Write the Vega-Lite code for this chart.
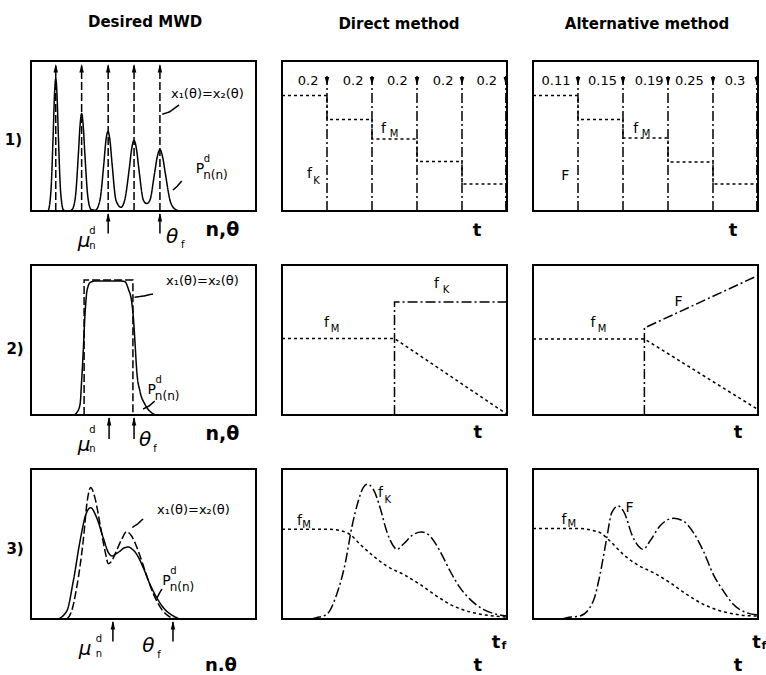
{
"$schema": "https://vega.github.io/schema/vega-lite/v6.json",
"background": "white",
"padding": {"left": 3, "top": 14, "right": 0, "bottom": 0},
"config": {"view": {"stroke": "black", "strokeWidth": 2}, "font": "DejaVu Sans", "text": {"font": "DejaVu Sans"}},
"data": {"values": [
{"p":"r1c1","k":"c","g":"p","s":"s","x":0,"y":0},{"p":"r1c1","k":"c","g":"p","s":"s","x":7.5,"y":0},{"p":"r1c1","k":"c","g":"p","s":"s","x":8.8,"y":12},{"p":"r1c1","k":"c","g":"p","s":"s","x":9.9,"y":53},{"p":"r1c1","k":"c","g":"p","s":"s","x":10.45,"y":78},{"p":"r1c1","k":"c","g":"p","s":"s","x":11,"y":88},{"p":"r1c1","k":"c","g":"p","s":"s","x":11.55,"y":78},{"p":"r1c1","k":"c","g":"p","s":"s","x":12.1,"y":53},{"p":"r1c1","k":"c","g":"p","s":"s","x":13.2,"y":12},{"p":"r1c1","k":"c","g":"p","s":"s","x":14.5,"y":0.5},{"p":"r1c1","k":"c","g":"p","s":"s","x":17,"y":0},{"p":"r1c1","k":"c","g":"p","s":"s","x":18.3,"y":1},{"p":"r1c1","k":"c","g":"p","s":"s","x":19.7,"y":9},{"p":"r1c1","k":"c","g":"p","s":"s","x":21.1,"y":39},{"p":"r1c1","k":"c","g":"p","s":"s","x":21.8,"y":57},{"p":"r1c1","k":"c","g":"p","s":"s","x":22.5,"y":65},{"p":"r1c1","k":"c","g":"p","s":"s","x":23.2,"y":57},{"p":"r1c1","k":"c","g":"p","s":"s","x":23.9,"y":39},{"p":"r1c1","k":"c","g":"p","s":"s","x":25.3,"y":9},{"p":"r1c1","k":"c","g":"p","s":"s","x":26.7,"y":1},{"p":"r1c1","k":"c","g":"p","s":"s","x":28.6,"y":0.5},{"p":"r1c1","k":"c","g":"p","s":"s","x":30.6,"y":7},{"p":"r1c1","k":"c","g":"p","s":"s","x":32.4,"y":32},{"p":"r1c1","k":"c","g":"p","s":"s","x":33.3,"y":47},{"p":"r1c1","k":"c","g":"p","s":"s","x":34.2,"y":53},{"p":"r1c1","k":"c","g":"p","s":"s","x":35.1,"y":47},{"p":"r1c1","k":"c","g":"p","s":"s","x":36,"y":32},{"p":"r1c1","k":"c","g":"p","s":"s","x":37.8,"y":7},{"p":"r1c1","k":"c","g":"p","s":"s","x":40,"y":2.5},{"p":"r1c1","k":"c","g":"p","s":"s","x":41.6,"y":7},{"p":"r1c1","k":"c","g":"p","s":"s","x":43.7,"y":28.5},{"p":"r1c1","k":"c","g":"p","s":"s","x":44.75,"y":41.5},{"p":"r1c1","k":"c","g":"p","s":"s","x":45.8,"y":47},{"p":"r1c1","k":"c","g":"p","s":"s","x":46.85,"y":41.5},{"p":"r1c1","k":"c","g":"p","s":"s","x":47.9,"y":28.5},{"p":"r1c1","k":"c","g":"p","s":"s","x":50,"y":7},{"p":"r1c1","k":"c","g":"p","s":"s","x":51.4,"y":5},{"p":"r1c1","k":"c","g":"p","s":"s","x":52.8,"y":7},{"p":"r1c1","k":"c","g":"p","s":"s","x":54.9,"y":25},{"p":"r1c1","k":"c","g":"p","s":"s","x":56.1,"y":36},{"p":"r1c1","k":"c","g":"p","s":"s","x":57.3,"y":41},{"p":"r1c1","k":"c","g":"p","s":"s","x":58.5,"y":36},{"p":"r1c1","k":"c","g":"p","s":"s","x":59.7,"y":25},{"p":"r1c1","k":"c","g":"p","s":"s","x":62.1,"y":5.5},{"p":"r1c1","k":"c","g":"p","s":"s","x":64.5,"y":0.8},{"p":"r1c1","k":"c","g":"p","s":"s","x":66.5,"y":0},{"p":"r1c1","k":"c","g":"p","s":"s","x":100,"y":0},
{"p":"r1c1","k":"l","g":"d1","s":"d","x":11,"y":0},{"p":"r1c1","k":"l","g":"d1","s":"d","x":11,"y":97},
{"p":"r1c1","k":"l","g":"d2","s":"d","x":22.5,"y":0},{"p":"r1c1","k":"l","g":"d2","s":"d","x":22.5,"y":97},
{"p":"r1c1","k":"l","g":"d3","s":"d","x":34.3,"y":0},{"p":"r1c1","k":"l","g":"d3","s":"d","x":34.3,"y":97},
{"p":"r1c1","k":"l","g":"d4","s":"d","x":45.8,"y":0},{"p":"r1c1","k":"l","g":"d4","s":"d","x":45.8,"y":97},
{"p":"r1c1","k":"l","g":"d5","s":"d","x":57.3,"y":0},{"p":"r1c1","k":"l","g":"d5","s":"d","x":57.3,"y":97},
{"p":"r1c1","k":"l","g":"a1","s":"s","x":34.3,"y":-15},{"p":"r1c1","k":"l","g":"a1","s":"s","x":34.3,"y":-2},
{"p":"r1c1","k":"l","g":"a2","s":"s","x":57.3,"y":-15},{"p":"r1c1","k":"l","g":"a2","s":"s","x":57.3,"y":-2},
{"p":"r1c1","k":"l","g":"L1","s":"s","x":65.8,"y":70.7},{"p":"r1c1","k":"l","g":"L1","s":"s","x":61.5,"y":66},{"p":"r1c1","k":"l","g":"L1","s":"s","x":58.3,"y":64.5},
{"p":"r1c1","k":"l","g":"L2","s":"s","x":67,"y":20},{"p":"r1c1","k":"l","g":"L2","s":"s","x":65,"y":16.5},{"p":"r1c1","k":"l","g":"L2","s":"s","x":63.1,"y":14},
{"p":"r1c1","k":"a","h":"u","x":11,"y":94.7},{"p":"r1c1","k":"a","h":"u","x":22.5,"y":94.7},{"p":"r1c1","k":"a","h":"u","x":34.3,"y":94.7},{"p":"r1c1","k":"a","h":"u","x":45.8,"y":94.7},{"p":"r1c1","k":"a","h":"u","x":57.3,"y":94.7},
{"p":"r1c1","k":"a","h":"u","x":34.3,"y":-4.6},{"p":"r1c1","k":"a","h":"u","x":57.3,"y":-4.6},
{"p":"r1c1","k":"t","t":"x₁(θ)=x₂(θ)","z":13,"x":78.4,"y":78},
{"p":"r1c1","k":"t","t":"P","z":14,"x":75.1,"y":28},{"p":"r1c1","k":"t","t":"d","z":10,"x":78.2,"y":34.5},{"p":"r1c1","k":"t","t":"n(n)","z":12,"x":82,"y":24},
{"p":"r1c1","k":"i","t":"μ","z":20,"x":23.6,"y":-20},{"p":"r1c1","k":"t","t":"d","z":10,"x":27.3,"y":-13},{"p":"r1c1","k":"t","t":"n","z":10,"x":27.3,"y":-23},
{"p":"r1c1","k":"i","t":"θ","z":20,"x":62.7,"y":-17.3},{"p":"r1c1","k":"t","t":"f","z":10,"x":67.4,"y":-22.7},
{"p":"r1c1","k":"b","t":"n,θ","z":19,"x":85.1,"y":-12.7},{"p":"r1c1","k":"b","t":"1)","z":15,"x":-7.8,"y":47.3},{"p":"r1c1","k":"b","t":"Desired MWD","z":15,"x":50.7,"y":126},

{"p":"r1c2","k":"l","g":"k1","s":"dd","x":20,"y":0},{"p":"r1c2","k":"l","g":"k1","s":"dd","x":20,"y":90},
{"p":"r1c2","k":"l","g":"k2","s":"dd","x":40,"y":0},{"p":"r1c2","k":"l","g":"k2","s":"dd","x":40,"y":90},
{"p":"r1c2","k":"l","g":"k3","s":"dd","x":60,"y":0},{"p":"r1c2","k":"l","g":"k3","s":"dd","x":60,"y":90},
{"p":"r1c2","k":"l","g":"k4","s":"dd","x":80,"y":0},{"p":"r1c2","k":"l","g":"k4","s":"dd","x":80,"y":90},
{"p":"r1c2","k":"l","g":"k5","s":"dd","x":99.5,"y":0},{"p":"r1c2","k":"l","g":"k5","s":"dd","x":99.5,"y":90},
{"p":"r1c2","k":"l","g":"m","s":"o","x":0,"y":77},{"p":"r1c2","k":"l","g":"m","s":"o","x":20,"y":77},{"p":"r1c2","k":"l","g":"m","s":"o","x":20,"y":61},{"p":"r1c2","k":"l","g":"m","s":"o","x":40,"y":61},{"p":"r1c2","k":"l","g":"m","s":"o","x":40,"y":48},{"p":"r1c2","k":"l","g":"m","s":"o","x":60,"y":48},{"p":"r1c2","k":"l","g":"m","s":"o","x":60,"y":33},{"p":"r1c2","k":"l","g":"m","s":"o","x":80,"y":33},{"p":"r1c2","k":"l","g":"m","s":"o","x":80,"y":18},{"p":"r1c2","k":"l","g":"m","s":"o","x":100,"y":18},
{"p":"r1c2","k":"a","h":"d","x":20,"y":87},{"p":"r1c2","k":"a","h":"d","x":40,"y":87},{"p":"r1c2","k":"a","h":"d","x":60,"y":87},{"p":"r1c2","k":"a","h":"d","x":80,"y":87},{"p":"r1c2","k":"a","h":"d","x":99.5,"y":87},
{"p":"r1c2","k":"t","t":"0.2","z":13,"x":11.6,"y":87},{"p":"r1c2","k":"t","t":"0.2","z":13,"x":31.6,"y":87},{"p":"r1c2","k":"t","t":"0.2","z":13,"x":51.3,"y":87},{"p":"r1c2","k":"t","t":"0.2","z":13,"x":71.6,"y":87},{"p":"r1c2","k":"t","t":"0.2","z":13,"x":91,"y":87},
{"p":"r1c2","k":"t","t":"f","z":14,"x":45.1,"y":54.7},{"p":"r1c2","k":"t","t":"M","z":10,"x":49.8,"y":51.3},
{"p":"r1c2","k":"t","t":"f","z":14,"x":12.2,"y":24.7},{"p":"r1c2","k":"t","t":"K","z":10,"x":15.3,"y":20},
{"p":"r1c2","k":"b","t":"t","z":18,"x":86.7,"y":-13.3},{"p":"r1c2","k":"b","t":"Direct method","z":15,"x":52,"y":125},

{"p":"r1c3","k":"l","g":"k1","s":"dd","x":20,"y":0},{"p":"r1c3","k":"l","g":"k1","s":"dd","x":20,"y":90},
{"p":"r1c3","k":"l","g":"k2","s":"dd","x":40,"y":0},{"p":"r1c3","k":"l","g":"k2","s":"dd","x":40,"y":90},
{"p":"r1c3","k":"l","g":"k3","s":"dd","x":60,"y":0},{"p":"r1c3","k":"l","g":"k3","s":"dd","x":60,"y":90},
{"p":"r1c3","k":"l","g":"k4","s":"dd","x":80,"y":0},{"p":"r1c3","k":"l","g":"k4","s":"dd","x":80,"y":90},
{"p":"r1c3","k":"l","g":"k5","s":"dd","x":99.5,"y":0},{"p":"r1c3","k":"l","g":"k5","s":"dd","x":99.5,"y":90},
{"p":"r1c3","k":"l","g":"m","s":"o","x":0,"y":77},{"p":"r1c3","k":"l","g":"m","s":"o","x":20,"y":77},{"p":"r1c3","k":"l","g":"m","s":"o","x":20,"y":61},{"p":"r1c3","k":"l","g":"m","s":"o","x":40,"y":61},{"p":"r1c3","k":"l","g":"m","s":"o","x":40,"y":48.7},{"p":"r1c3","k":"l","g":"m","s":"o","x":60,"y":48.7},{"p":"r1c3","k":"l","g":"m","s":"o","x":60,"y":32.7},{"p":"r1c3","k":"l","g":"m","s":"o","x":80,"y":32.7},{"p":"r1c3","k":"l","g":"m","s":"o","x":80,"y":18},{"p":"r1c3","k":"l","g":"m","s":"o","x":100,"y":18},
{"p":"r1c3","k":"a","h":"d","x":20,"y":87},{"p":"r1c3","k":"a","h":"d","x":40,"y":87},{"p":"r1c3","k":"a","h":"d","x":60,"y":87},{"p":"r1c3","k":"a","h":"d","x":80,"y":87},{"p":"r1c3","k":"a","h":"d","x":99.5,"y":87},
{"p":"r1c3","k":"t","t":"0.11","z":13,"x":10.2,"y":87},{"p":"r1c3","k":"t","t":"0.15","z":13,"x":30.9,"y":87},{"p":"r1c3","k":"t","t":"0.19","z":13,"x":51.6,"y":87},{"p":"r1c3","k":"t","t":"0.25","z":13,"x":69.5,"y":87},{"p":"r1c3","k":"t","t":"0.3","z":13,"x":89.8,"y":87},
{"p":"r1c3","k":"t","t":"f","z":14,"x":45.6,"y":54.7},{"p":"r1c3","k":"t","t":"M","z":10,"x":50.2,"y":51.3},
{"p":"r1c3","k":"t","t":"F","z":14,"x":14.4,"y":23.3},
{"p":"r1c3","k":"b","t":"t","z":18,"x":88.9,"y":-13.3},{"p":"r1c3","k":"b","t":"Alternative method","z":15,"x":50.7,"y":125},

{"p":"r2c1","k":"c","g":"p","s":"s","x":0,"y":0},{"p":"r2c1","k":"c","g":"p","s":"s","x":19,"y":0},{"p":"r2c1","k":"c","g":"p","s":"s","x":20.3,"y":1.5},{"p":"r2c1","k":"c","g":"p","s":"s","x":21.8,"y":7},{"p":"r2c1","k":"c","g":"p","s":"s","x":22.5,"y":22.7},{"p":"r2c1","k":"c","g":"p","s":"s","x":23.3,"y":45},{"p":"r2c1","k":"c","g":"p","s":"s","x":24,"y":67},{"p":"r2c1","k":"c","g":"p","s":"s","x":25,"y":83.8},{"p":"r2c1","k":"c","g":"p","s":"s","x":26.5,"y":88.6},{"p":"r2c1","k":"c","g":"p","s":"s","x":28.5,"y":89.3},{"p":"r2c1","k":"c","g":"p","s":"s","x":40,"y":89.3},{"p":"r2c1","k":"c","g":"p","s":"s","x":41.8,"y":88.8},{"p":"r2c1","k":"c","g":"p","s":"s","x":43.3,"y":83.8},{"p":"r2c1","k":"c","g":"p","s":"s","x":44.7,"y":76},{"p":"r2c1","k":"c","g":"p","s":"s","x":45.5,"y":65},{"p":"r2c1","k":"c","g":"p","s":"s","x":46.2,"y":49},{"p":"r2c1","k":"c","g":"p","s":"s","x":47,"y":29.3},{"p":"r2c1","k":"c","g":"p","s":"s","x":48.4,"y":16},{"p":"r2c1","k":"c","g":"p","s":"s","x":50.7,"y":7},{"p":"r2c1","k":"c","g":"p","s":"s","x":53.6,"y":1.5},{"p":"r2c1","k":"c","g":"p","s":"s","x":56,"y":0},{"p":"r2c1","k":"c","g":"p","s":"s","x":100,"y":0},
{"p":"r2c1","k":"l","g":"r","s":"d","x":23.6,"y":0},{"p":"r2c1","k":"l","g":"r","s":"d","x":23.6,"y":90},{"p":"r2c1","k":"l","g":"r","s":"d","x":45.3,"y":90},{"p":"r2c1","k":"l","g":"r","s":"d","x":45.3,"y":0},
{"p":"r2c1","k":"l","g":"a1","s":"s","x":34.7,"y":-16},{"p":"r2c1","k":"l","g":"a1","s":"s","x":34.7,"y":-2},
{"p":"r2c1","k":"l","g":"a2","s":"s","x":45.8,"y":-16},{"p":"r2c1","k":"l","g":"a2","s":"s","x":45.8,"y":-2},
{"p":"r2c1","k":"l","g":"L1","s":"s","x":54.2,"y":80.7},{"p":"r2c1","k":"l","g":"L1","s":"s","x":50,"y":79.3},{"p":"r2c1","k":"l","g":"L1","s":"s","x":46,"y":78.5},
{"p":"r2c1","k":"l","g":"L2","s":"s","x":55,"y":9.3},{"p":"r2c1","k":"l","g":"L2","s":"s","x":52.5,"y":6},{"p":"r2c1","k":"l","g":"L2","s":"s","x":49.8,"y":4},
{"p":"r2c1","k":"a","h":"u","x":34.7,"y":-4.6},{"p":"r2c1","k":"a","h":"u","x":45.8,"y":-4.6},
{"p":"r2c1","k":"t","t":"x₁(θ)=x₂(θ)","z":13,"x":76.2,"y":89.3},
{"p":"r2c1","k":"t","t":"P","z":14,"x":53.6,"y":16.7},{"p":"r2c1","k":"t","t":"d","z":10,"x":56.7,"y":23.2},{"p":"r2c1","k":"t","t":"n(n)","z":12,"x":60.5,"y":12.7},
{"p":"r2c1","k":"i","t":"μ","z":20,"x":23.6,"y":-20},{"p":"r2c1","k":"t","t":"d","z":10,"x":27.3,"y":-10},{"p":"r2c1","k":"t","t":"n","z":10,"x":27.3,"y":-22.5},
{"p":"r2c1","k":"i","t":"θ","z":20,"x":50.7,"y":-16.7},{"p":"r2c1","k":"t","t":"f","z":10,"x":55.1,"y":-22.7},
{"p":"r2c1","k":"b","t":"n,θ","z":19,"x":85.1,"y":-12.7},{"p":"r2c1","k":"b","t":"2)","z":15,"x":-7.1,"y":44},

{"p":"r2c2","k":"l","g":"m","s":"o","x":0,"y":51},{"p":"r2c2","k":"l","g":"m","s":"o","x":50,"y":51},{"p":"r2c2","k":"l","g":"m","s":"o","x":99.5,"y":1},
{"p":"r2c2","k":"l","g":"k","s":"dd","x":50,"y":0},{"p":"r2c2","k":"l","g":"k","s":"dd","x":50,"y":75.3},{"p":"r2c2","k":"l","g":"k","s":"dd","x":100,"y":75.3},
{"p":"r2c2","k":"t","t":"f","z":14,"x":19.8,"y":61.3},{"p":"r2c2","k":"t","t":"M","z":10,"x":23.6,"y":57.3},
{"p":"r2c2","k":"t","t":"f","z":14,"x":68.7,"y":87.3},{"p":"r2c2","k":"t","t":"K","z":10,"x":72.9,"y":83.3},
{"p":"r2c2","k":"b","t":"t","z":18,"x":87,"y":-12},

{"p":"r2c3","k":"l","g":"m","s":"o","x":0,"y":50.7},{"p":"r2c3","k":"l","g":"m","s":"o","x":49.5,"y":50.7},{"p":"r2c3","k":"l","g":"m","s":"o","x":99.6,"y":4},
{"p":"r2c3","k":"l","g":"k","s":"dd","x":49.5,"y":0},{"p":"r2c3","k":"l","g":"k","s":"dd","x":49.5,"y":58},{"p":"r2c3","k":"l","g":"k","s":"dd","x":100,"y":93},
{"p":"r2c3","k":"t","t":"f","z":14,"x":26.7,"y":61.3},{"p":"r2c3","k":"t","t":"M","z":10,"x":30.7,"y":57.3},
{"p":"r2c3","k":"t","t":"F","z":14,"x":64.7,"y":75.3},
{"p":"r2c3","k":"b","t":"t","z":18,"x":91.1,"y":-12},

{"p":"r3c1","k":"c","g":"p","s":"s","x":0,"y":0},{"p":"r3c1","k":"c","g":"p","s":"s","x":11.4,"y":0},{"p":"r3c1","k":"c","g":"p","s":"s","x":15.9,"y":5.3},{"p":"r3c1","k":"c","g":"p","s":"s","x":18.8,"y":25.3},{"p":"r3c1","k":"c","g":"p","s":"s","x":21.8,"y":52},{"p":"r3c1","k":"c","g":"p","s":"s","x":24.4,"y":69.8},{"p":"r3c1","k":"c","g":"p","s":"s","x":26.5,"y":74.2},{"p":"r3c1","k":"c","g":"p","s":"s","x":29.2,"y":67.5},{"p":"r3c1","k":"c","g":"p","s":"s","x":32.1,"y":54.2},{"p":"r3c1","k":"c","g":"p","s":"s","x":34.5,"y":44},{"p":"r3c1","k":"c","g":"p","s":"s","x":36,"y":42},{"p":"r3c1","k":"c","g":"p","s":"s","x":37.8,"y":43.5},{"p":"r3c1","k":"c","g":"p","s":"s","x":39.6,"y":45.3},{"p":"r3c1","k":"c","g":"p","s":"s","x":41.5,"y":47.5},{"p":"r3c1","k":"c","g":"p","s":"s","x":43.3,"y":48},{"p":"r3c1","k":"c","g":"p","s":"s","x":45,"y":46.5},{"p":"r3c1","k":"c","g":"p","s":"s","x":47,"y":43.1},{"p":"r3c1","k":"c","g":"p","s":"s","x":49.9,"y":34.2},{"p":"r3c1","k":"c","g":"p","s":"s","x":52.9,"y":23.1},{"p":"r3c1","k":"c","g":"p","s":"s","x":55.9,"y":14.2},{"p":"r3c1","k":"c","g":"p","s":"s","x":58.8,"y":7.6},{"p":"r3c1","k":"c","g":"p","s":"s","x":63.3,"y":2},{"p":"r3c1","k":"c","g":"p","s":"s","x":67,"y":0},{"p":"r3c1","k":"c","g":"p","s":"s","x":100,"y":0},
{"p":"r3c1","k":"c","g":"q","s":"d","x":15.9,"y":0},{"p":"r3c1","k":"c","g":"q","s":"d","x":18,"y":5},{"p":"r3c1","k":"c","g":"q","s":"d","x":20.3,"y":20.9},{"p":"r3c1","k":"c","g":"q","s":"d","x":23.2,"y":52},{"p":"r3c1","k":"c","g":"q","s":"d","x":25,"y":78.7},{"p":"r3c1","k":"c","g":"q","s":"d","x":26.5,"y":87.6},{"p":"r3c1","k":"c","g":"q","s":"d","x":28.4,"y":80.9},{"p":"r3c1","k":"c","g":"q","s":"d","x":30.7,"y":63.1},{"p":"r3c1","k":"c","g":"q","s":"d","x":32.9,"y":45.3},{"p":"r3c1","k":"c","g":"q","s":"d","x":34.4,"y":36.9},{"p":"r3c1","k":"c","g":"q","s":"d","x":35.8,"y":38.5},{"p":"r3c1","k":"c","g":"q","s":"d","x":37.3,"y":43.1},{"p":"r3c1","k":"c","g":"q","s":"d","x":40.3,"y":53.1},{"p":"r3c1","k":"c","g":"q","s":"d","x":42.5,"y":58.2},{"p":"r3c1","k":"c","g":"q","s":"d","x":44.7,"y":55.3},{"p":"r3c1","k":"c","g":"q","s":"d","x":47.7,"y":45.3},{"p":"r3c1","k":"c","g":"q","s":"d","x":50.7,"y":32},{"p":"r3c1","k":"c","g":"q","s":"d","x":54.5,"y":16.4},{"p":"r3c1","k":"c","g":"q","s":"d","x":58.1,"y":6.4},{"p":"r3c1","k":"c","g":"q","s":"d","x":61.8,"y":1.3},{"p":"r3c1","k":"c","g":"q","s":"d","x":65.2,"y":0},
{"p":"r3c1","k":"l","g":"a1","s":"s","x":36.4,"y":-15},{"p":"r3c1","k":"l","g":"a1","s":"s","x":36.4,"y":-2},
{"p":"r3c1","k":"l","g":"a2","s":"s","x":63.1,"y":-15},{"p":"r3c1","k":"l","g":"a2","s":"s","x":63.1,"y":-2},
{"p":"r3c1","k":"l","g":"L1","s":"s","x":49.8,"y":66.7},{"p":"r3c1","k":"l","g":"L1","s":"s","x":47.5,"y":63.5},{"p":"r3c1","k":"l","g":"L1","s":"s","x":45,"y":61},
{"p":"r3c1","k":"l","g":"L2","s":"s","x":58.2,"y":20},{"p":"r3c1","k":"l","g":"L2","s":"s","x":57,"y":17},{"p":"r3c1","k":"l","g":"L2","s":"s","x":56,"y":14},
{"p":"r3c1","k":"a","h":"u","x":36.4,"y":-4.6},{"p":"r3c1","k":"a","h":"u","x":63.1,"y":-4.6},
{"p":"r3c1","k":"t","t":"x₁(θ)=x₂(θ)","z":13,"x":72.2,"y":72.7},
{"p":"r3c1","k":"t","t":"P","z":14,"x":60.2,"y":25.3},{"p":"r3c1","k":"t","t":"d","z":10,"x":63.3,"y":31.8},{"p":"r3c1","k":"t","t":"n(n)","z":12,"x":67.1,"y":21.3},
{"p":"r3c1","k":"i","t":"μ","z":20,"x":24,"y":-20},{"p":"r3c1","k":"t","t":"d","z":10,"x":30.2,"y":-13.5},{"p":"r3c1","k":"t","t":"n","z":10,"x":30.2,"y":-23},
{"p":"r3c1","k":"i","t":"θ","z":20,"x":52.2,"y":-18},{"p":"r3c1","k":"t","t":"f","z":10,"x":56.9,"y":-24},
{"p":"r3c1","k":"b","t":"n.θ","z":18,"x":84.4,"y":-31.5},{"p":"r3c1","k":"b","t":"3)","z":15,"x":-7.1,"y":46.7},

{"p":"r3c2","k":"c","g":"m","s":"o","x":0,"y":59.8},{"p":"r3c2","k":"c","g":"m","s":"o","x":20,"y":59.8},{"p":"r3c2","k":"c","g":"m","s":"o","x":24,"y":59.5},{"p":"r3c2","k":"c","g":"m","s":"o","x":27,"y":58.5},{"p":"r3c2","k":"c","g":"m","s":"o","x":30.2,"y":56.4},{"p":"r3c2","k":"c","g":"m","s":"o","x":34.7,"y":49.8},{"p":"r3c2","k":"c","g":"m","s":"o","x":40.6,"y":42},{"p":"r3c2","k":"c","g":"m","s":"o","x":46.5,"y":35.3},{"p":"r3c2","k":"c","g":"m","s":"o","x":53.9,"y":29.8},{"p":"r3c2","k":"c","g":"m","s":"o","x":61.3,"y":23.1},{"p":"r3c2","k":"c","g":"m","s":"o","x":68.7,"y":15.3},{"p":"r3c2","k":"c","g":"m","s":"o","x":76.1,"y":8.7},{"p":"r3c2","k":"c","g":"m","s":"o","x":85,"y":4.2},{"p":"r3c2","k":"c","g":"m","s":"o","x":93.9,"y":2},{"p":"r3c2","k":"c","g":"m","s":"o","x":99.9,"y":1.3},
{"p":"r3c2","k":"c","g":"k","s":"dd","x":13,"y":0},{"p":"r3c2","k":"c","g":"k","s":"dd","x":15.4,"y":0.9},{"p":"r3c2","k":"c","g":"k","s":"dd","x":19.9,"y":3.1},{"p":"r3c2","k":"c","g":"k","s":"dd","x":24.3,"y":16.4},{"p":"r3c2","k":"c","g":"k","s":"dd","x":28,"y":36.4},{"p":"r3c2","k":"c","g":"k","s":"dd","x":31,"y":60.9},{"p":"r3c2","k":"c","g":"k","s":"dd","x":33.9,"y":78.7},{"p":"r3c2","k":"c","g":"k","s":"dd","x":36.1,"y":87.6},{"p":"r3c2","k":"c","g":"k","s":"dd","x":37.9,"y":89.8},{"p":"r3c2","k":"c","g":"k","s":"dd","x":40.6,"y":86.4},{"p":"r3c2","k":"c","g":"k","s":"dd","x":43.6,"y":74.2},{"p":"r3c2","k":"c","g":"k","s":"dd","x":46.5,"y":58.7},{"p":"r3c2","k":"c","g":"k","s":"dd","x":49.5,"y":48.7},{"p":"r3c2","k":"c","g":"k","s":"dd","x":51,"y":46.4},{"p":"r3c2","k":"c","g":"k","s":"dd","x":53.9,"y":49.8},{"p":"r3c2","k":"c","g":"k","s":"dd","x":58.4,"y":56.4},{"p":"r3c2","k":"c","g":"k","s":"dd","x":62.1,"y":58},{"p":"r3c2","k":"c","g":"k","s":"dd","x":65.8,"y":55.3},{"p":"r3c2","k":"c","g":"k","s":"dd","x":70.2,"y":45.3},{"p":"r3c2","k":"c","g":"k","s":"dd","x":74.7,"y":32},{"p":"r3c2","k":"c","g":"k","s":"dd","x":79.1,"y":20.9},{"p":"r3c2","k":"c","g":"k","s":"dd","x":83.6,"y":13.1},{"p":"r3c2","k":"c","g":"k","s":"dd","x":89.5,"y":6.4},{"p":"r3c2","k":"c","g":"k","s":"dd","x":95.4,"y":3.1},{"p":"r3c2","k":"c","g":"k","s":"dd","x":99.9,"y":2},
{"p":"r3c2","k":"t","t":"f","z":14,"x":7.8,"y":65.3},{"p":"r3c2","k":"t","t":"M","z":10,"x":10.9,"y":62.5},
{"p":"r3c2","k":"t","t":"f","z":14,"x":43.8,"y":84},{"p":"r3c2","k":"t","t":"K","z":10,"x":47,"y":79.5},
{"p":"r3c2","k":"b","t":"t","z":18,"x":95.1,"y":-15.7},{"p":"r3c2","k":"b","t":"f","z":11,"x":98.6,"y":-18},
{"p":"r3c2","k":"b","t":"t","z":18,"x":87,"y":-31.3},

{"p":"r3c3","k":"c","g":"m","s":"o","x":0,"y":60.4},{"p":"r3c3","k":"c","g":"m","s":"o","x":20,"y":60.4},{"p":"r3c3","k":"c","g":"m","s":"o","x":23.5,"y":60},{"p":"r3c3","k":"c","g":"m","s":"o","x":26.5,"y":59},{"p":"r3c3","k":"c","g":"m","s":"o","x":29.8,"y":57.6},{"p":"r3c3","k":"c","g":"m","s":"o","x":34.2,"y":52},{"p":"r3c3","k":"c","g":"m","s":"o","x":40.1,"y":43.1},{"p":"r3c3","k":"c","g":"m","s":"o","x":46.1,"y":36.4},{"p":"r3c3","k":"c","g":"m","s":"o","x":53.5,"y":30.9},{"p":"r3c3","k":"c","g":"m","s":"o","x":60.9,"y":24.2},{"p":"r3c3","k":"c","g":"m","s":"o","x":68.3,"y":16.4},{"p":"r3c3","k":"c","g":"m","s":"o","x":75.7,"y":9.8},{"p":"r3c3","k":"c","g":"m","s":"o","x":84.6,"y":4.9},{"p":"r3c3","k":"c","g":"m","s":"o","x":92,"y":2.7},{"p":"r3c3","k":"c","g":"m","s":"o","x":99.4,"y":2},
{"p":"r3c3","k":"c","g":"k","s":"dd","x":13,"y":0},{"p":"r3c3","k":"c","g":"k","s":"dd","x":15,"y":0.9},{"p":"r3c3","k":"c","g":"k","s":"dd","x":20.9,"y":2},{"p":"r3c3","k":"c","g":"k","s":"dd","x":26.8,"y":12},{"p":"r3c3","k":"c","g":"k","s":"dd","x":29.8,"y":29.8},{"p":"r3c3","k":"c","g":"k","s":"dd","x":32.8,"y":54.2},{"p":"r3c3","k":"c","g":"k","s":"dd","x":35,"y":70.9},{"p":"r3c3","k":"c","g":"k","s":"dd","x":37.9,"y":75.3},{"p":"r3c3","k":"c","g":"k","s":"dd","x":40.9,"y":69.8},{"p":"r3c3","k":"c","g":"k","s":"dd","x":43.9,"y":56.4},{"p":"r3c3","k":"c","g":"k","s":"dd","x":46.8,"y":48.7},{"p":"r3c3","k":"c","g":"k","s":"dd","x":49,"y":46.4},{"p":"r3c3","k":"c","g":"k","s":"dd","x":52,"y":52},{"p":"r3c3","k":"c","g":"k","s":"dd","x":56.4,"y":62},{"p":"r3c3","k":"c","g":"k","s":"dd","x":62.4,"y":67.1},{"p":"r3c3","k":"c","g":"k","s":"dd","x":66.8,"y":65.3},{"p":"r3c3","k":"c","g":"k","s":"dd","x":71.3,"y":57.6},{"p":"r3c3","k":"c","g":"k","s":"dd","x":75.7,"y":45.3},{"p":"r3c3","k":"c","g":"k","s":"dd","x":80.1,"y":29.8},{"p":"r3c3","k":"c","g":"k","s":"dd","x":84.6,"y":18.7},{"p":"r3c3","k":"c","g":"k","s":"dd","x":89,"y":9.8},{"p":"r3c3","k":"c","g":"k","s":"dd","x":95,"y":4.2},{"p":"r3c3","k":"c","g":"k","s":"dd","x":100,"y":2.7},
{"p":"r3c3","k":"t","t":"f","z":14,"x":13.8,"y":66.3},{"p":"r3c3","k":"t","t":"M","z":10,"x":17.3,"y":63.3},
{"p":"r3c3","k":"t","t":"F","z":14,"x":42.9,"y":74},
{"p":"r3c3","k":"b","t":"t","z":18,"x":99.3,"y":-15.7},{"p":"r3c3","k":"b","t":"f","z":11,"x":102.6,"y":-18},
{"p":"r3c3","k":"b","t":"t","z":18,"x":91.1,"y":-31.3}
]},
"columns": 3,
"spacing": {"row": 54, "column": 26},
"bounds": "flush",
"concat": [
{"width":225,"height":150,"transform":[{"filter":"datum.p=='r1c1'"}],"encoding":{"x":{"field":"x","type":"quantitative","scale":{"domain":[0,100],"nice":false,"zero":false},"axis":null},"y":{"field":"y","type":"quantitative","scale":{"domain":[0,100],"nice":false,"zero":false},"axis":null}},"layer":[
{"transform":[{"filter":"datum.k=='l'"}],"mark":{"type":"line","color":"black","strokeWidth":1.5,"strokeCap":"butt"},"encoding":{"detail":{"field":"g"},"order":{"value":null},"strokeDash":{"field":"s","type":"nominal","scale":{"domain":["s","d","o","dd"],"range":[[1,0],[8,3],[3,3],[10,3,2,3]]},"legend":null}}},
{"transform":[{"filter":"datum.k=='c'"}],"mark":{"type":"line","color":"black","strokeWidth":1.5,"strokeCap":"butt","interpolate":"monotone"},"encoding":{"detail":{"field":"g"},"order":{"value":null},"strokeDash":{"field":"s","type":"nominal","scale":{"domain":["s","d","o","dd"],"range":[[1,0],[8,3],[3,3],[10,3,2,3]]},"legend":null}}},
{"transform":[{"filter":"datum.k=='a'"}],"mark":{"type":"point","filled":true,"color":"black","opacity":1,"size":100,"strokeWidth":0},"encoding":{"shape":{"field":"h","type":"nominal","scale":{"domain":["u","d"],"range":["M0,-1L0.45,0.7L-0.45,0.7Z","M0,1L0.45,-0.7L-0.45,-0.7Z"]},"legend":null}}},
{"transform":[{"filter":"datum.k=='t'"}],"mark":{"type":"text","color":"black","align":"center","baseline":"middle"},"encoding":{"text":{"field":"t"},"size":{"field":"z","type":"quantitative","scale":null}}},
{"transform":[{"filter":"datum.k=='i'"}],"mark":{"type":"text","color":"black","align":"center","baseline":"middle","fontStyle":"italic"},"encoding":{"text":{"field":"t"},"size":{"field":"z","type":"quantitative","scale":null}}},
{"transform":[{"filter":"datum.k=='b'"}],"mark":{"type":"text","color":"black","align":"center","baseline":"middle","fontWeight":"bold"},"encoding":{"text":{"field":"t"},"size":{"field":"z","type":"quantitative","scale":null}}}]},
{"width":225,"height":150,"transform":[{"filter":"datum.p=='r1c2'"}],"encoding":{"x":{"field":"x","type":"quantitative","scale":{"domain":[0,100],"nice":false,"zero":false},"axis":null},"y":{"field":"y","type":"quantitative","scale":{"domain":[0,100],"nice":false,"zero":false},"axis":null}},"layer":[
{"transform":[{"filter":"datum.k=='l'"}],"mark":{"type":"line","color":"black","strokeWidth":1.5,"strokeCap":"butt"},"encoding":{"detail":{"field":"g"},"order":{"value":null},"strokeDash":{"field":"s","type":"nominal","scale":{"domain":["s","d","o","dd"],"range":[[1,0],[8,3],[3,3],[10,3,2,3]]},"legend":null}}},
{"transform":[{"filter":"datum.k=='c'"}],"mark":{"type":"line","color":"black","strokeWidth":1.5,"strokeCap":"butt","interpolate":"monotone"},"encoding":{"detail":{"field":"g"},"order":{"value":null},"strokeDash":{"field":"s","type":"nominal","scale":{"domain":["s","d","o","dd"],"range":[[1,0],[8,3],[3,3],[10,3,2,3]]},"legend":null}}},
{"transform":[{"filter":"datum.k=='a'"}],"mark":{"type":"point","filled":true,"color":"black","opacity":1,"size":100,"strokeWidth":0},"encoding":{"shape":{"field":"h","type":"nominal","scale":{"domain":["u","d"],"range":["M0,-1L0.45,0.7L-0.45,0.7Z","M0,1L0.45,-0.7L-0.45,-0.7Z"]},"legend":null}}},
{"transform":[{"filter":"datum.k=='t'"}],"mark":{"type":"text","color":"black","align":"center","baseline":"middle"},"encoding":{"text":{"field":"t"},"size":{"field":"z","type":"quantitative","scale":null}}},
{"transform":[{"filter":"datum.k=='i'"}],"mark":{"type":"text","color":"black","align":"center","baseline":"middle","fontStyle":"italic"},"encoding":{"text":{"field":"t"},"size":{"field":"z","type":"quantitative","scale":null}}},
{"transform":[{"filter":"datum.k=='b'"}],"mark":{"type":"text","color":"black","align":"center","baseline":"middle","fontWeight":"bold"},"encoding":{"text":{"field":"t"},"size":{"field":"z","type":"quantitative","scale":null}}}]},
{"width":225,"height":150,"transform":[{"filter":"datum.p=='r1c3'"}],"encoding":{"x":{"field":"x","type":"quantitative","scale":{"domain":[0,100],"nice":false,"zero":false},"axis":null},"y":{"field":"y","type":"quantitative","scale":{"domain":[0,100],"nice":false,"zero":false},"axis":null}},"layer":[
{"transform":[{"filter":"datum.k=='l'"}],"mark":{"type":"line","color":"black","strokeWidth":1.5,"strokeCap":"butt"},"encoding":{"detail":{"field":"g"},"order":{"value":null},"strokeDash":{"field":"s","type":"nominal","scale":{"domain":["s","d","o","dd"],"range":[[1,0],[8,3],[3,3],[10,3,2,3]]},"legend":null}}},
{"transform":[{"filter":"datum.k=='c'"}],"mark":{"type":"line","color":"black","strokeWidth":1.5,"strokeCap":"butt","interpolate":"monotone"},"encoding":{"detail":{"field":"g"},"order":{"value":null},"strokeDash":{"field":"s","type":"nominal","scale":{"domain":["s","d","o","dd"],"range":[[1,0],[8,3],[3,3],[10,3,2,3]]},"legend":null}}},
{"transform":[{"filter":"datum.k=='a'"}],"mark":{"type":"point","filled":true,"color":"black","opacity":1,"size":100,"strokeWidth":0},"encoding":{"shape":{"field":"h","type":"nominal","scale":{"domain":["u","d"],"range":["M0,-1L0.45,0.7L-0.45,0.7Z","M0,1L0.45,-0.7L-0.45,-0.7Z"]},"legend":null}}},
{"transform":[{"filter":"datum.k=='t'"}],"mark":{"type":"text","color":"black","align":"center","baseline":"middle"},"encoding":{"text":{"field":"t"},"size":{"field":"z","type":"quantitative","scale":null}}},
{"transform":[{"filter":"datum.k=='i'"}],"mark":{"type":"text","color":"black","align":"center","baseline":"middle","fontStyle":"italic"},"encoding":{"text":{"field":"t"},"size":{"field":"z","type":"quantitative","scale":null}}},
{"transform":[{"filter":"datum.k=='b'"}],"mark":{"type":"text","color":"black","align":"center","baseline":"middle","fontWeight":"bold"},"encoding":{"text":{"field":"t"},"size":{"field":"z","type":"quantitative","scale":null}}}]},
{"width":225,"height":150,"transform":[{"filter":"datum.p=='r2c1'"}],"encoding":{"x":{"field":"x","type":"quantitative","scale":{"domain":[0,100],"nice":false,"zero":false},"axis":null},"y":{"field":"y","type":"quantitative","scale":{"domain":[0,100],"nice":false,"zero":false},"axis":null}},"layer":[
{"transform":[{"filter":"datum.k=='l'"}],"mark":{"type":"line","color":"black","strokeWidth":1.5,"strokeCap":"butt"},"encoding":{"detail":{"field":"g"},"order":{"value":null},"strokeDash":{"field":"s","type":"nominal","scale":{"domain":["s","d","o","dd"],"range":[[1,0],[8,3],[3,3],[10,3,2,3]]},"legend":null}}},
{"transform":[{"filter":"datum.k=='c'"}],"mark":{"type":"line","color":"black","strokeWidth":1.5,"strokeCap":"butt","interpolate":"monotone"},"encoding":{"detail":{"field":"g"},"order":{"value":null},"strokeDash":{"field":"s","type":"nominal","scale":{"domain":["s","d","o","dd"],"range":[[1,0],[8,3],[3,3],[10,3,2,3]]},"legend":null}}},
{"transform":[{"filter":"datum.k=='a'"}],"mark":{"type":"point","filled":true,"color":"black","opacity":1,"size":100,"strokeWidth":0},"encoding":{"shape":{"field":"h","type":"nominal","scale":{"domain":["u","d"],"range":["M0,-1L0.45,0.7L-0.45,0.7Z","M0,1L0.45,-0.7L-0.45,-0.7Z"]},"legend":null}}},
{"transform":[{"filter":"datum.k=='t'"}],"mark":{"type":"text","color":"black","align":"center","baseline":"middle"},"encoding":{"text":{"field":"t"},"size":{"field":"z","type":"quantitative","scale":null}}},
{"transform":[{"filter":"datum.k=='i'"}],"mark":{"type":"text","color":"black","align":"center","baseline":"middle","fontStyle":"italic"},"encoding":{"text":{"field":"t"},"size":{"field":"z","type":"quantitative","scale":null}}},
{"transform":[{"filter":"datum.k=='b'"}],"mark":{"type":"text","color":"black","align":"center","baseline":"middle","fontWeight":"bold"},"encoding":{"text":{"field":"t"},"size":{"field":"z","type":"quantitative","scale":null}}}]},
{"width":225,"height":150,"transform":[{"filter":"datum.p=='r2c2'"}],"encoding":{"x":{"field":"x","type":"quantitative","scale":{"domain":[0,100],"nice":false,"zero":false},"axis":null},"y":{"field":"y","type":"quantitative","scale":{"domain":[0,100],"nice":false,"zero":false},"axis":null}},"layer":[
{"transform":[{"filter":"datum.k=='l'"}],"mark":{"type":"line","color":"black","strokeWidth":1.5,"strokeCap":"butt"},"encoding":{"detail":{"field":"g"},"order":{"value":null},"strokeDash":{"field":"s","type":"nominal","scale":{"domain":["s","d","o","dd"],"range":[[1,0],[8,3],[3,3],[10,3,2,3]]},"legend":null}}},
{"transform":[{"filter":"datum.k=='c'"}],"mark":{"type":"line","color":"black","strokeWidth":1.5,"strokeCap":"butt","interpolate":"monotone"},"encoding":{"detail":{"field":"g"},"order":{"value":null},"strokeDash":{"field":"s","type":"nominal","scale":{"domain":["s","d","o","dd"],"range":[[1,0],[8,3],[3,3],[10,3,2,3]]},"legend":null}}},
{"transform":[{"filter":"datum.k=='a'"}],"mark":{"type":"point","filled":true,"color":"black","opacity":1,"size":100,"strokeWidth":0},"encoding":{"shape":{"field":"h","type":"nominal","scale":{"domain":["u","d"],"range":["M0,-1L0.45,0.7L-0.45,0.7Z","M0,1L0.45,-0.7L-0.45,-0.7Z"]},"legend":null}}},
{"transform":[{"filter":"datum.k=='t'"}],"mark":{"type":"text","color":"black","align":"center","baseline":"middle"},"encoding":{"text":{"field":"t"},"size":{"field":"z","type":"quantitative","scale":null}}},
{"transform":[{"filter":"datum.k=='i'"}],"mark":{"type":"text","color":"black","align":"center","baseline":"middle","fontStyle":"italic"},"encoding":{"text":{"field":"t"},"size":{"field":"z","type":"quantitative","scale":null}}},
{"transform":[{"filter":"datum.k=='b'"}],"mark":{"type":"text","color":"black","align":"center","baseline":"middle","fontWeight":"bold"},"encoding":{"text":{"field":"t"},"size":{"field":"z","type":"quantitative","scale":null}}}]},
{"width":225,"height":150,"transform":[{"filter":"datum.p=='r2c3'"}],"encoding":{"x":{"field":"x","type":"quantitative","scale":{"domain":[0,100],"nice":false,"zero":false},"axis":null},"y":{"field":"y","type":"quantitative","scale":{"domain":[0,100],"nice":false,"zero":false},"axis":null}},"layer":[
{"transform":[{"filter":"datum.k=='l'"}],"mark":{"type":"line","color":"black","strokeWidth":1.5,"strokeCap":"butt"},"encoding":{"detail":{"field":"g"},"order":{"value":null},"strokeDash":{"field":"s","type":"nominal","scale":{"domain":["s","d","o","dd"],"range":[[1,0],[8,3],[3,3],[10,3,2,3]]},"legend":null}}},
{"transform":[{"filter":"datum.k=='c'"}],"mark":{"type":"line","color":"black","strokeWidth":1.5,"strokeCap":"butt","interpolate":"monotone"},"encoding":{"detail":{"field":"g"},"order":{"value":null},"strokeDash":{"field":"s","type":"nominal","scale":{"domain":["s","d","o","dd"],"range":[[1,0],[8,3],[3,3],[10,3,2,3]]},"legend":null}}},
{"transform":[{"filter":"datum.k=='a'"}],"mark":{"type":"point","filled":true,"color":"black","opacity":1,"size":100,"strokeWidth":0},"encoding":{"shape":{"field":"h","type":"nominal","scale":{"domain":["u","d"],"range":["M0,-1L0.45,0.7L-0.45,0.7Z","M0,1L0.45,-0.7L-0.45,-0.7Z"]},"legend":null}}},
{"transform":[{"filter":"datum.k=='t'"}],"mark":{"type":"text","color":"black","align":"center","baseline":"middle"},"encoding":{"text":{"field":"t"},"size":{"field":"z","type":"quantitative","scale":null}}},
{"transform":[{"filter":"datum.k=='i'"}],"mark":{"type":"text","color":"black","align":"center","baseline":"middle","fontStyle":"italic"},"encoding":{"text":{"field":"t"},"size":{"field":"z","type":"quantitative","scale":null}}},
{"transform":[{"filter":"datum.k=='b'"}],"mark":{"type":"text","color":"black","align":"center","baseline":"middle","fontWeight":"bold"},"encoding":{"text":{"field":"t"},"size":{"field":"z","type":"quantitative","scale":null}}}]},
{"width":225,"height":150,"transform":[{"filter":"datum.p=='r3c1'"}],"encoding":{"x":{"field":"x","type":"quantitative","scale":{"domain":[0,100],"nice":false,"zero":false},"axis":null},"y":{"field":"y","type":"quantitative","scale":{"domain":[0,100],"nice":false,"zero":false},"axis":null}},"layer":[
{"transform":[{"filter":"datum.k=='l'"}],"mark":{"type":"line","color":"black","strokeWidth":1.5,"strokeCap":"butt"},"encoding":{"detail":{"field":"g"},"order":{"value":null},"strokeDash":{"field":"s","type":"nominal","scale":{"domain":["s","d","o","dd"],"range":[[1,0],[8,3],[3,3],[10,3,2,3]]},"legend":null}}},
{"transform":[{"filter":"datum.k=='c'"}],"mark":{"type":"line","color":"black","strokeWidth":1.5,"strokeCap":"butt","interpolate":"monotone"},"encoding":{"detail":{"field":"g"},"order":{"value":null},"strokeDash":{"field":"s","type":"nominal","scale":{"domain":["s","d","o","dd"],"range":[[1,0],[8,3],[3,3],[10,3,2,3]]},"legend":null}}},
{"transform":[{"filter":"datum.k=='a'"}],"mark":{"type":"point","filled":true,"color":"black","opacity":1,"size":100,"strokeWidth":0},"encoding":{"shape":{"field":"h","type":"nominal","scale":{"domain":["u","d"],"range":["M0,-1L0.45,0.7L-0.45,0.7Z","M0,1L0.45,-0.7L-0.45,-0.7Z"]},"legend":null}}},
{"transform":[{"filter":"datum.k=='t'"}],"mark":{"type":"text","color":"black","align":"center","baseline":"middle"},"encoding":{"text":{"field":"t"},"size":{"field":"z","type":"quantitative","scale":null}}},
{"transform":[{"filter":"datum.k=='i'"}],"mark":{"type":"text","color":"black","align":"center","baseline":"middle","fontStyle":"italic"},"encoding":{"text":{"field":"t"},"size":{"field":"z","type":"quantitative","scale":null}}},
{"transform":[{"filter":"datum.k=='b'"}],"mark":{"type":"text","color":"black","align":"center","baseline":"middle","fontWeight":"bold"},"encoding":{"text":{"field":"t"},"size":{"field":"z","type":"quantitative","scale":null}}}]},
{"width":225,"height":150,"transform":[{"filter":"datum.p=='r3c2'"}],"encoding":{"x":{"field":"x","type":"quantitative","scale":{"domain":[0,100],"nice":false,"zero":false},"axis":null},"y":{"field":"y","type":"quantitative","scale":{"domain":[0,100],"nice":false,"zero":false},"axis":null}},"layer":[
{"transform":[{"filter":"datum.k=='l'"}],"mark":{"type":"line","color":"black","strokeWidth":1.5,"strokeCap":"butt"},"encoding":{"detail":{"field":"g"},"order":{"value":null},"strokeDash":{"field":"s","type":"nominal","scale":{"domain":["s","d","o","dd"],"range":[[1,0],[8,3],[3,3],[10,3,2,3]]},"legend":null}}},
{"transform":[{"filter":"datum.k=='c'"}],"mark":{"type":"line","color":"black","strokeWidth":1.5,"strokeCap":"butt","interpolate":"monotone"},"encoding":{"detail":{"field":"g"},"order":{"value":null},"strokeDash":{"field":"s","type":"nominal","scale":{"domain":["s","d","o","dd"],"range":[[1,0],[8,3],[3,3],[10,3,2,3]]},"legend":null}}},
{"transform":[{"filter":"datum.k=='a'"}],"mark":{"type":"point","filled":true,"color":"black","opacity":1,"size":100,"strokeWidth":0},"encoding":{"shape":{"field":"h","type":"nominal","scale":{"domain":["u","d"],"range":["M0,-1L0.45,0.7L-0.45,0.7Z","M0,1L0.45,-0.7L-0.45,-0.7Z"]},"legend":null}}},
{"transform":[{"filter":"datum.k=='t'"}],"mark":{"type":"text","color":"black","align":"center","baseline":"middle"},"encoding":{"text":{"field":"t"},"size":{"field":"z","type":"quantitative","scale":null}}},
{"transform":[{"filter":"datum.k=='i'"}],"mark":{"type":"text","color":"black","align":"center","baseline":"middle","fontStyle":"italic"},"encoding":{"text":{"field":"t"},"size":{"field":"z","type":"quantitative","scale":null}}},
{"transform":[{"filter":"datum.k=='b'"}],"mark":{"type":"text","color":"black","align":"center","baseline":"middle","fontWeight":"bold"},"encoding":{"text":{"field":"t"},"size":{"field":"z","type":"quantitative","scale":null}}}]},
{"width":225,"height":150,"transform":[{"filter":"datum.p=='r3c3'"}],"encoding":{"x":{"field":"x","type":"quantitative","scale":{"domain":[0,100],"nice":false,"zero":false},"axis":null},"y":{"field":"y","type":"quantitative","scale":{"domain":[0,100],"nice":false,"zero":false},"axis":null}},"layer":[
{"transform":[{"filter":"datum.k=='l'"}],"mark":{"type":"line","color":"black","strokeWidth":1.5,"strokeCap":"butt"},"encoding":{"detail":{"field":"g"},"order":{"value":null},"strokeDash":{"field":"s","type":"nominal","scale":{"domain":["s","d","o","dd"],"range":[[1,0],[8,3],[3,3],[10,3,2,3]]},"legend":null}}},
{"transform":[{"filter":"datum.k=='c'"}],"mark":{"type":"line","color":"black","strokeWidth":1.5,"strokeCap":"butt","interpolate":"monotone"},"encoding":{"detail":{"field":"g"},"order":{"value":null},"strokeDash":{"field":"s","type":"nominal","scale":{"domain":["s","d","o","dd"],"range":[[1,0],[8,3],[3,3],[10,3,2,3]]},"legend":null}}},
{"transform":[{"filter":"datum.k=='a'"}],"mark":{"type":"point","filled":true,"color":"black","opacity":1,"size":100,"strokeWidth":0},"encoding":{"shape":{"field":"h","type":"nominal","scale":{"domain":["u","d"],"range":["M0,-1L0.45,0.7L-0.45,0.7Z","M0,1L0.45,-0.7L-0.45,-0.7Z"]},"legend":null}}},
{"transform":[{"filter":"datum.k=='t'"}],"mark":{"type":"text","color":"black","align":"center","baseline":"middle"},"encoding":{"text":{"field":"t"},"size":{"field":"z","type":"quantitative","scale":null}}},
{"transform":[{"filter":"datum.k=='i'"}],"mark":{"type":"text","color":"black","align":"center","baseline":"middle","fontStyle":"italic"},"encoding":{"text":{"field":"t"},"size":{"field":"z","type":"quantitative","scale":null}}},
{"transform":[{"filter":"datum.k=='b'"}],"mark":{"type":"text","color":"black","align":"center","baseline":"middle","fontWeight":"bold"},"encoding":{"text":{"field":"t"},"size":{"field":"z","type":"quantitative","scale":null}}}]}
]
}
